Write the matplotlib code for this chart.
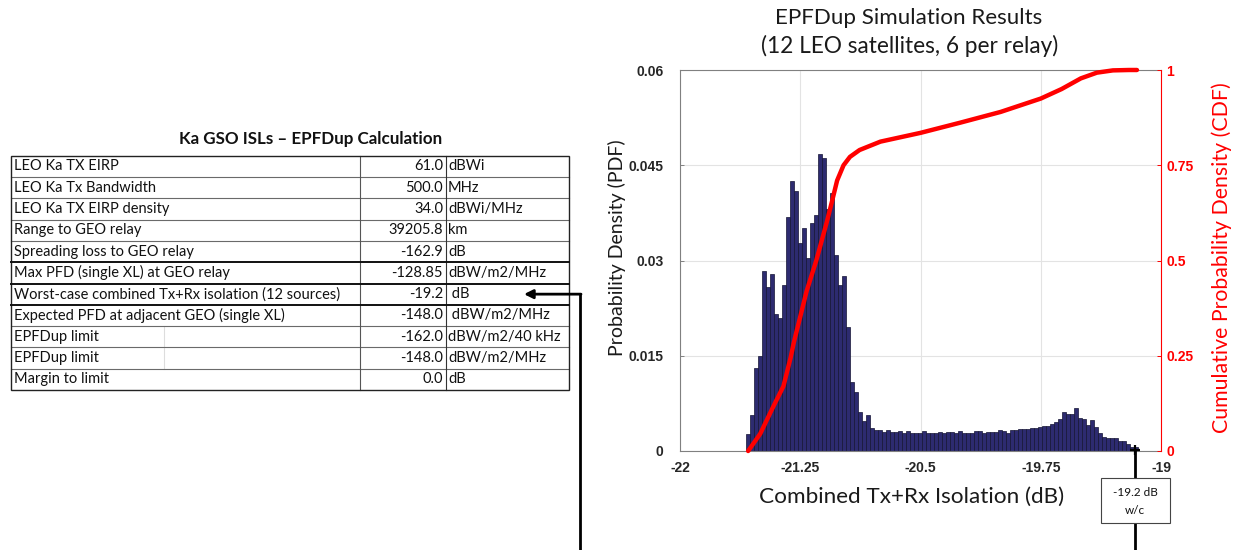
import numpy as np
import matplotlib
matplotlib.use('Agg')
import matplotlib.pyplot as plt
from matplotlib.patches import Rectangle

# ---------------- data ----------------
pdf = [0.0027, 0.0056, 0.0130, 0.0149, 0.0284, 0.0258, 0.0279, 0.0215, 0.0210, 0.0262,
       0.0368, 0.0425, 0.0409, 0.0328, 0.0351, 0.0304, 0.0359, 0.0372, 0.0468, 0.0461,
       0.0381, 0.0407, 0.0308, 0.0261, 0.0275, 0.0195, 0.0109, 0.0093, 0.0062, 0.0047,
       0.0056, 0.0037, 0.0033,
       0.0033, 0.0030, 0.0033, 0.0030, 0.0030, 0.0031, 0.0028, 0.0032, 0.0028, 0.0028,
       0.0028, 0.0031, 0.0029, 0.0029, 0.0029, 0.0030, 0.0029, 0.0030, 0.0030, 0.0029,
       0.0031, 0.0028, 0.0028, 0.0029, 0.0031, 0.0031, 0.0028, 0.0030, 0.0030, 0.0030,
       0.0033, 0.0032, 0.0029, 0.0033, 0.0033, 0.0034, 0.0035, 0.0035, 0.0036, 0.0037,
       0.0038,
       0.0039, 0.0040, 0.0043, 0.0046, 0.0051, 0.0061, 0.0059, 0.0058, 0.0068, 0.0052,
       0.0050, 0.0041, 0.0049, 0.0038, 0.0028, 0.0022, 0.0021, 0.0020, 0.0020, 0.0016,
       0.0016, 0.0011, 0.0007, 0.0006]
bin_first_edge = -21.59
bin_last_edge = -19.145

cdf_x = [-21.575, -21.50, -21.42, -21.355, -21.31, -21.29, -21.21, -21.15, -21.085,
         -21.055, -21.02, -20.98, -20.94, -20.88, -20.75, -20.5, -20.25, -20.0, -19.75,
         -19.62, -19.5, -19.4, -19.3, -19.2, -19.15]
cdf_y = [0.0, 0.045, 0.115, 0.17, 0.245, 0.285, 0.42, 0.50, 0.60, 0.65, 0.71, 0.75,
         0.772, 0.79, 0.812, 0.835, 0.862, 0.89, 0.925, 0.95, 0.978, 0.993, 0.999, 1.0, 1.0]

x_ticks = [-22, -21.25, -20.5, -19.75, -19]
x_tick_labels = ['-22', '-21.25', '-20.5', '-19.75', '-19']
pdf_ticks = [0, 0.015, 0.03, 0.045, 0.06]
pdf_tick_labels = ['0', '0.015', '0.03', '0.045', '0.06']
cdf_ticks = [0, 0.25, 0.5, 0.75, 1]
cdf_tick_labels = ['0', '0.25', '0.5', '0.75', '1']

table_title = 'Ka GSO ISLs \u2013 EPFDup Calculation'
table_labels = ['LEO Ka TX EIRP', 'LEO Ka Tx Bandwidth', 'LEO Ka TX EIRP density',
                'Range to GEO relay', 'Spreading loss to GEO relay',
                'Max PFD (single XL) at GEO relay',
                'Worst-case combined Tx+Rx isolation (12 sources)',
                'Expected PFD at adjacent GEO (single XL)', 'EPFDup limit',
                'EPFDup limit', 'Margin to limit']
table_values = ['61.0', '500.0', '34.0', '39205.8', '-162.9', '-128.85', '-19.2',
                '-148.0', '-162.0', '-148.0', '0.0']
table_units = ['dBWi', 'MHz', 'dBWi/MHz', 'km', 'dB', 'dBW/m2/MHz', ' dB',
               ' dBW/m2/MHz', 'dBW/m2/40 kHz', 'dBW/m2/MHz', 'dB']

chart_title = ['EPFDup Simulation Results', '(12 LEO satellites, 6 per relay)']
x_label = 'Combined Tx+Rx Isolation (dB)'
pdf_label = 'Probability Density (PDF)'
cdf_label = 'Cumulative Probability Density (CDF)'
callout_text = ['-19.2 dB', 'w/c']

# ---------------- figure ----------------
W, H = 1236, 550
fig = plt.figure(figsize=(W / 100, H / 100), dpi=100)
fig.patch.set_facecolor('white')

ov = fig.add_axes([0, 0, 1, 1])
ov.set_xlim(0, W)
ov.set_ylim(H, 0)
ov.axis('off')

TXT = 'Lato'
TICKF = 'Liberation Sans'
TICKSIZE = 10

# chart axes (pixel box)
L, R, T, B = 680, 1161, 70, 451
ax = fig.add_axes([L / W, 1 - B / H, (R - L) / W, (B - T) / H])
edges = np.linspace(bin_first_edge, bin_last_edge, len(pdf) + 1)
ax.bar(edges[:-1], pdf, width=np.diff(edges), align='edge',
       color='#2d2b70', edgecolor='#141433', linewidth=0.5, zorder=2)
ax.set_xlim(-22, -19)
ax.set_ylim(0, 0.06)
ax.set_xticks(x_ticks)
ax.set_xticklabels(x_tick_labels)
ax.set_yticks(pdf_ticks)
ax.set_yticklabels(pdf_tick_labels)
ax.grid(True, color='#e3e3e3', linewidth=0.8, zorder=0)
ax.set_axisbelow(True)
for s in ['left', 'bottom', 'top']:
    ax.spines[s].set_color('#808080')
    ax.spines[s].set_linewidth(0.8)
ax.spines['right'].set_visible(False)
ax.tick_params(axis='both', direction='in', length=3, color='#808080', width=0.7)
ax.tick_params(axis='y', pad=12)
ax.tick_params(axis='x', pad=7)
for lab in ax.get_xticklabels() + ax.get_yticklabels():
    lab.set_fontfamily(TICKF)
    lab.set_fontweight('bold')
    lab.set_fontsize(TICKSIZE)
    lab.set_color('#262626')

ax2 = ax.twinx()
ax2.plot(cdf_x, cdf_y, color='#ff0000', linewidth=3.2, solid_capstyle='round',
         zorder=5, clip_on=False)
ax2.set_ylim(0, 1)
ax2.set_yticks(cdf_ticks)
ax2.set_yticklabels(cdf_tick_labels)
for s in ['left', 'bottom', 'top']:
    ax2.spines[s].set_visible(False)
ax2.spines['right'].set_color('#ff0000')
ax2.spines['right'].set_linewidth(0.8)
ax2.tick_params(axis='y', direction='in', length=3, color='#ff0000', width=0.7, pad=4)
for lab in ax2.get_yticklabels():
    lab.set_fontfamily(TICKF)
    lab.set_fontweight('bold')
    lab.set_fontsize(TICKSIZE)
    lab.set_color('#ff0000')

# ---------------- texts ----------------
fig.canvas.draw()
rend = fig.canvas.get_renderer()


def fit(t, target, vertical=False):
    bb = t.get_window_extent(rend)
    cur = bb.height if vertical else bb.width
    t.set_fontsize(t.get_fontsize() * target / cur)


t1 = ov.text(909, 18, chart_title[0], ha='center', va='center', family=TXT, fontsize=15,
             color='#1a1a1a')
t2 = ov.text(910, 46, chart_title[1], ha='center', va='center', family=TXT, fontsize=15,
             color='#1a1a1a')
fit(t1, 267)
fit(t2, 298)
tx = ov.text(912, 497, x_label, ha='center', va='center', family=TXT, fontsize=14,
             color='#1a1a1a')
fit(tx, 305)
ty = ov.text(617, 248, pdf_label, ha='center', va='center', rotation=90, family=TXT,
             fontsize=14, color='#1a1a1a')
fit(ty, 218, vertical=True)
tc = ov.text(1222, 258, cdf_label, ha='center', va='center', rotation=90, family=TXT,
             fontsize=14, color='#ff0000')
fit(tc, 350, vertical=True)

# ---------------- table ----------------
tl, tr, ttop, tbot = 10.5, 569, 155.7, 390
c1, c2, cfaint = 360, 445.5, 164
nrow = len(table_labels)
rh = (tbot - ttop) / nrow

tt = ov.text(311, 139, table_title, ha='center', va='center', family=TXT,
             fontweight='bold', fontsize=11, color='#111111')
fit(tt, 263)

ov.add_patch(Rectangle((tl, ttop), tr - tl, tbot - ttop, fill=False, edgecolor='#222222',
                       linewidth=1.0, zorder=3))
for i in range(1, nrow):
    y = ttop + i * rh
    if i in (5, 6, 7):
        ov.plot([tl, tr], [y, y], color='#111111', linewidth=1.4, zorder=3)
    else:
        ov.plot([tl, tr], [y, y], color='#6a6a6a', linewidth=0.8, zorder=2)
ov.plot([c1, c1], [ttop, tbot], color='#555555', linewidth=0.8, zorder=2)
ov.plot([c2, c2], [ttop, tbot], color='#333333', linewidth=0.8, zorder=2)
ov.plot([cfaint, cfaint], [ttop + 8 * rh, ttop + 10 * rh], color='#dddddd',
        linewidth=0.8, zorder=1)

ref = ov.text(14, ttop + 6.5 * rh, table_labels[6], ha='left', va='center', family=TXT,
              fontsize=10, color='#111111')
fit(ref, 325)
fs = ref.get_fontsize()
ref.remove()
for i in range(nrow):
    yc = ttop + (i + 0.5) * rh
    ov.text(14, yc, table_labels[i], ha='left', va='center', family=TXT, fontsize=fs,
            color='#111111')
    ov.text(c2 - 2.5, yc, table_values[i], ha='right', va='center', family=TXT,
            fontsize=fs, color='#111111')
    ov.text(c2 + 2.5, yc, table_units[i], ha='left', va='center', family=TXT,
            fontsize=fs, color='#111111')

# ---------------- callouts ----------------
ay = ttop + 6.5 * rh
ov.plot([580, 580], [H + 2, ay], color='black', linewidth=2.0, solid_capstyle='butt')
ov.annotate('', xy=(524, ay), xytext=(581, ay),
            arrowprops=dict(arrowstyle='-|>', color='black', lw=2.0, mutation_scale=13,
                            shrinkA=0, shrinkB=0))

bx0, by0, bx1, by1 = 1100.7, 478.3, 1170, 522.7
bcx = 1135.3
ov.plot([bcx, bcx], [B - 1, by0], color='black', linewidth=2.0, zorder=6)
ov.plot([bcx, bcx], [by1, H + 2], color='black', linewidth=2.0, zorder=6)
ov.plot([bcx], [B - 1], marker='+', color='black', markersize=7, mew=1.6, zorder=6)
ov.add_patch(Rectangle((bx0, by0), bx1 - bx0, by1 - by0, facecolor='white',
                       edgecolor='#444444', linewidth=0.8, zorder=7))
cb1 = ov.text(bcx, 492.3, callout_text[0], ha='center', va='center', family=TXT,
              fontsize=9.5, color='#111111', zorder=8)
fit(cb1, 45)
ov.text(bcx, 510, callout_text[1], ha='center', va='center', family=TXT,
        fontsize=cb1.get_fontsize(), color='#111111', zorder=8)

ov.set_zorder(10)
ov.patch.set_alpha(0)

fig.savefig('out.png', dpi=100, facecolor='white')
